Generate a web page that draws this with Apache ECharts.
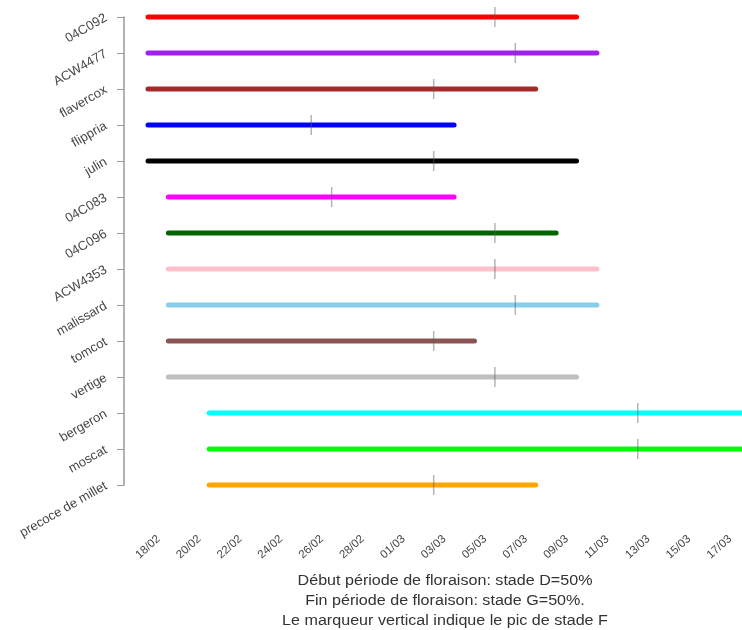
<!DOCTYPE html>
<html>
<head>
<meta charset="utf-8">
<script src="https://cdn.jsdelivr.net/npm/echarts@6/dist/echarts.min.js"></script>
<style>html,body{margin:0;padding:0;background:#fff}#c{width:742px;height:630px}</style>
</head>
<body>
<div id="c"></div>
<script>
// ---- data ----
const varieties = ['04C092','ACW4477','flavercox','flippria','julin','04C083','04C096','ACW4353','malissard','tomcot','vertige','bergeron','moscat','precoce de millet'];
const startDates = ['2016-02-18','2016-02-18','2016-02-18','2016-02-18','2016-02-18','2016-02-19','2016-02-19','2016-02-19','2016-02-19','2016-02-19','2016-02-19','2016-02-21','2016-02-21','2016-02-21'];
const endDates   = ['2016-03-10','2016-03-11','2016-03-08','2016-03-04','2016-03-10','2016-03-04','2016-03-09','2016-03-11','2016-03-11','2016-03-05','2016-03-10','2016-03-20','2016-03-20','2016-03-08'];
const peakDates  = ['2016-03-06','2016-03-07','2016-03-03','2016-02-26','2016-03-03','2016-02-27','2016-03-06','2016-03-06','2016-03-07','2016-03-03','2016-03-06','2016-03-13','2016-03-13','2016-03-03'];
const tickLabels = ['18/02','20/02','22/02','24/02','26/02','28/02','01/03','03/03','05/03','07/03','09/03','11/03','13/03','15/03','17/03'];
const noteLines = ['Début période de floraison: stade D=50%','Fin période de floraison: stade G=50%.','Le marqueur vertical indique le pic de stade F'];

// ---- styles ----
const colors = ['#FF0000','#A020F0','#A52A2A','#0000FF','#000000','#FF00FF','#006400','#FFC0CB','#87CEEB','#8B5454','#BEBEBE','#00FFFF','#00FF00','#FFA500'];

const base = Date.UTC(2016,1,18);
function dayOf(s){ const p=s.split('-').map(Number); return (Date.UTC(p[0],p[1]-1,p[2])-base)/86400000; }

const data = varieties.map((v,i)=>[dayOf(startDates[i]), dayOf(endDates[i]), dayOf(peakDates[i]), i]);

const chart = echarts.init(document.getElementById('c'));
chart.setOption({
  animation:false,
  grid:{left:148, right:2, top:17, bottom:145},
  xAxis:{
    type:'value', min:0, max:29, interval:2,
    axisLine:{show:false}, axisTick:{show:false}, splitLine:{show:false},
    axisLabel:{
      rotate:42, align:'center', verticalAlign:'middle', margin:62,
      fontFamily:'Liberation Sans', fontSize:11.5, color:'#444',
      formatter:function(v){ const k=v/2; return (Number.isInteger(k) && tickLabels[k]) ? tickLabels[k] : ''; }
    }
  },
  yAxis:{
    type:'category', data:varieties, inverse:true, boundaryGap:false, offset:24,
    axisLine:{onZero:false, lineStyle:{color:'#999', width:1.5}},
    axisTick:{length:7, lineStyle:{color:'#999'}},
    splitLine:{show:false},
    axisLabel:{rotate:30, margin:18, fontFamily:'Liberation Sans', fontSize:13, color:'#444', interval:0}
  },
  series:[{
    type:'custom',
    data:data,
    encode:{x:[0,1,2], y:3},
    renderItem:function(params, api){
      const i = params.dataIndex;
      const y = api.value(3);
      const p0 = api.coord([api.value(0), y]);
      const p1 = api.coord([api.value(1), y]);
      const pk = api.coord([api.value(2), y]);
      return {type:'group', children:[
        {type:'line', shape:{x1:p0[0],y1:p0[1],x2:p1[0],y2:p1[1]}, style:{stroke:colors[i], lineWidth:5, lineCap:'round'}},
        {type:'line', shape:{x1:pk[0],y1:pk[1]-10,x2:pk[0],y2:pk[1]+10}, style:{stroke:'rgba(90,90,90,0.45)', lineWidth:1.5}}
      ]};
    }
  }],
  graphic: noteLines.map((t,k)=>({
    type:'text', x:445, y:581+k*20, scaleX:1.15, originX:0,
    style:{text:t, textAlign:'center', textVerticalAlign:'middle', font:'14px "Liberation Sans"', fill:'#333'}
  }))
});
</script>
</body>
</html>
